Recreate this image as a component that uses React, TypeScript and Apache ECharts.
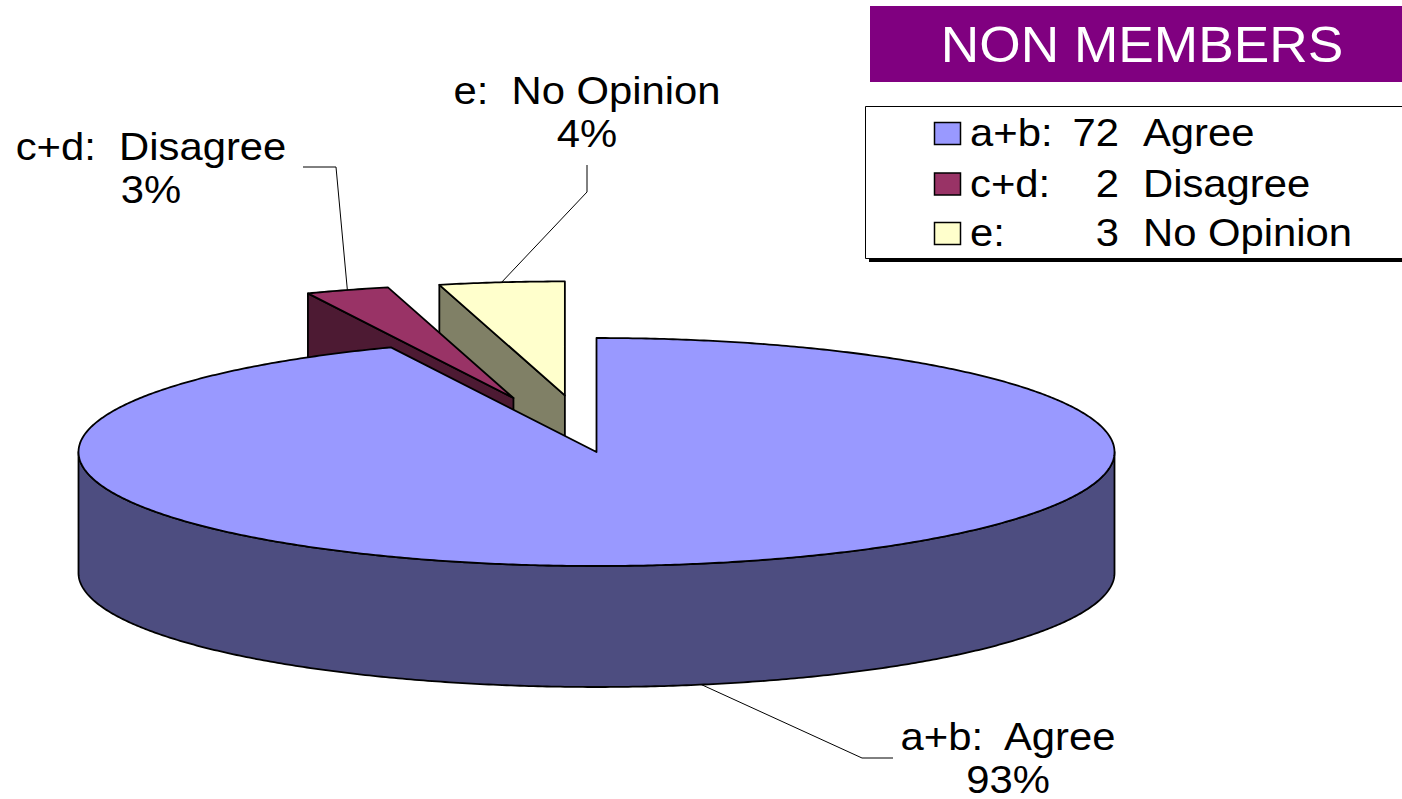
import React, { useEffect, useRef } from "react";
import * as echarts from "echarts";

// ---------- data ----------
const CATEGORY_CODES = ["a+b", "c+d", "e"];
const CATEGORY_NAMES = ["Agree", "Disagree", "No Opinion"];
const RESPONSE_COUNTS = [72, 2, 3];
const CHART_TITLE = "NON MEMBERS";

// ---------- styles ----------
const TOP_COLORS = ["#9999FF", "#993366", "#FFFFCC"];
const SIDE_COLORS = ["#4D4D80", "#4D1A33", "#808066"];
const EXPLODE_FRACTION = [0, 0.5, 0.5];
const DRAW_ORDER_Z = [3, 2, 1];
const FONT = "'Liberation Sans', Arial, Helvetica, sans-serif";
const LABEL_FONT_SIZE = 38;
const LEGEND_FONT_SIZE = 38;
const TEXT_STRETCH = 1.1;

// ---------- 3D pie geometry ----------
const CX = 596.5;
const CY = 452;
const RX = 518;
const RY = 114;
const DEPTH = 121;

// label layout (text centre, leader elbow, leader end, which edge leader starts from)
const LABEL_LAYOUT = [
  { x: 1008, y: 758, elbow: [862, 758], end: [893, 758], fromBottom: true },
  { x: 151, y: 168, elbow: [336, 167], end: [303, 167], fromBottom: false },
  { x: 587, y: 112, elbow: [587, 192], end: [587, 165], fromBottom: false },
];

// legend layout
const LEGEND_BOX = { x: 865.5, y: 106.5, w: 560, h: 152 };
const LEGEND_ROW_Y = [133, 183.5, 233];
const LEGEND_MARK_X = 934;
const LEGEND_CODE_X = 970;
const LEGEND_NUM_RIGHT_X = 1119;
const LEGEND_NAME_X = 1143;

const seriesNames = CATEGORY_CODES.map((c, i) => `${c}: ${RESPONSE_COUNTS[i]} ${CATEGORY_NAMES[i]}`);

function largestRemainderPercents(values: number[]): number[] {
  const total = values.reduce((a, b) => a + b, 0);
  const raw = values.map((v) => (v / total) * 100);
  const floors = raw.map((r) => Math.floor(r));
  let remaining = 100 - floors.reduce((a, b) => a + b, 0);
  const order = raw
    .map((r, i) => ({ i, rem: r - Math.floor(r) }))
    .sort((a, b) => b.rem - a.rem);
  const out = floors.slice();
  for (let k = 0; k < order.length && remaining > 0; k++, remaining--) out[order[k].i] += 1;
  return out;
}

const PERCENTS = largestRemainderPercents(RESPONSE_COUNTS);

const rad = (d: number) => (d * Math.PI) / 180;

function textStyle(text: string, size: number, align: string, fill = "#000", lineHeight?: number) {
  const s: any = {
    text,
    fill,
    fontFamily: FONT,
    fontSize: size,
    align,
    verticalAlign: "middle",
    textAlign: align,
    textVerticalAlign: "middle",
  };
  if (lineHeight) s.lineHeight = lineHeight;
  return s;
}

function makeRenderItem(idx: number) {
  return (params: any, api: any) => {
    const value = api.value(0) as number;
    const total = RESPONSE_COUNTS.reduce((a, b) => a + b, 0);
    let before = 0;
    for (let j = 0; j < idx; j++) before += RESPONSE_COUNTS[j];
    const k = 360 / total;
    const aHi = 90 - before * k;
    const aLo = aHi - value * k;
    const mid = (aHi + aLo) / 2;
    const e = EXPLODE_FRACTION[idx];
    const ox = e * RX * Math.cos(rad(mid));
    const oy = -e * RY * Math.sin(rad(mid));
    const pt = (a: number, z: number) => [
      CX + ox + RX * Math.cos(rad(a)),
      CY + oy - RY * Math.sin(rad(a)) + z,
    ];
    const ctr = (z: number) => [CX + ox, CY + oy + z];
    const arc = (a0: number, a1: number, z: number) => {
      const n = Math.max(2, Math.ceil(Math.abs(a1 - a0) / 0.5));
      const pts: number[][] = [];
      for (let j = 0; j <= n; j++) pts.push(pt(a0 + ((a1 - a0) * j) / n, z));
      return pts;
    };
    const line = { stroke: "#000", lineWidth: 1.8, lineJoin: "round" };
    const children: any[] = [];
    const face = (a: number) => ({
      type: "polygon",
      shape: { points: [ctr(0), pt(a, 0), pt(a, DEPTH), ctr(DEPTH)] },
      style: { fill: SIDE_COLORS[idx], ...line },
    });
    if (Math.cos(rad(aLo)) > 1e-6) children.push(face(aLo));
    if (Math.cos(rad(aHi)) < -1e-6) children.push(face(aHi));
    for (let m = -2; m <= 1; m++) {
      const lo = Math.max(aLo, 180 + 360 * m);
      const hi = Math.min(aHi, 360 + 360 * m);
      if (hi > lo) {
        children.push({
          type: "polygon",
          shape: { points: arc(lo, hi, 0).concat(arc(hi, lo, DEPTH)) },
          style: { fill: SIDE_COLORS[idx], ...line },
        });
      }
    }
    children.push({
      type: "polygon",
      shape: { points: [ctr(0)].concat(arc(aLo, aHi, 0)) },
      style: { fill: TOP_COLORS[idx], ...line },
    });
    const lay = LABEL_LAYOUT[idx];
    const start = pt(mid, lay.fromBottom ? DEPTH : 0);
    children.push({
      type: "polyline",
      shape: { points: [start, lay.elbow, lay.end] },
      style: { stroke: "#000", lineWidth: 1, fill: null },
    });
    children.push({
      type: "text",
      x: lay.x,
      y: lay.y,
      scaleX: TEXT_STRETCH,
      style: textStyle(
        `${CATEGORY_CODES[idx]}:  ${CATEGORY_NAMES[idx]}\n${PERCENTS[idx]}%`,
        LABEL_FONT_SIZE,
        "center",
        "#000",
        43
      ),
    });
    return { type: "group", children };
  };
}

export default function App() {
  const ref = useRef<HTMLDivElement>(null);
  useEffect(() => {
    if (!ref.current) return;
    const chart = echarts.init(ref.current, null, { renderer: "svg" });

    const legendItems: any[] = [];
    RESPONSE_COUNTS.forEach((v, i) => {
      const y = LEGEND_ROW_Y[i];
      legendItems.push({
        type: "rect",
        shape: { x: LEGEND_MARK_X + 0.5, y: y - 11 + 0.5, width: 26, height: 22 },
        style: { fill: TOP_COLORS[i], stroke: "#000", lineWidth: 1.5 },
        z: 5,
      });
      legendItems.push({
        type: "text",
        x: LEGEND_CODE_X,
        y,
        scaleX: TEXT_STRETCH,
        z: 5,
        style: textStyle(`${CATEGORY_CODES[i]}:`, LEGEND_FONT_SIZE, "left"),
      });
      legendItems.push({
        type: "text",
        x: LEGEND_NUM_RIGHT_X,
        y,
        scaleX: TEXT_STRETCH,
        z: 5,
        style: textStyle(String(v), LEGEND_FONT_SIZE, "right"),
      });
      legendItems.push({
        type: "text",
        x: LEGEND_NAME_X,
        y,
        scaleX: TEXT_STRETCH,
        z: 5,
        style: textStyle(CATEGORY_NAMES[i], LEGEND_FONT_SIZE, "left"),
      });
    });

    chart.setOption({
      animation: false,
      graphic: [
        {
          type: "rect",
          shape: { x: LEGEND_BOX.x + 3.5, y: LEGEND_BOX.y + 3.5, width: LEGEND_BOX.w, height: LEGEND_BOX.h },
          style: { fill: "#000" },
          z: 0,
        },
        {
          type: "rect",
          shape: { x: LEGEND_BOX.x, y: LEGEND_BOX.y, width: LEGEND_BOX.w, height: LEGEND_BOX.h },
          style: { fill: "#fff", stroke: "#000", lineWidth: 1 },
          z: 1,
        },
        ...legendItems,
        { type: "rect", shape: { x: 870, y: 6, width: 532, height: 76 }, style: { fill: "#800080" }, z: 1 },
        {
          type: "text",
          x: 1142,
          y: 45,
          z: 2,
          scaleX: 1.065,
          style: textStyle(CHART_TITLE, 50, "center", "#fff"),
        },
      ],
      series: RESPONSE_COUNTS.map((v, i) => ({
        type: "custom",
        name: seriesNames[i],
        coordinateSystem: "none",
        z: DRAW_ORDER_Z[i],
        itemStyle: { color: TOP_COLORS[i] },
        data: [[v]],
        renderItem: makeRenderItem(i),
        clip: false,
      })),
    });
    return () => chart.dispose();
  }, []);
  return (
    <div
      ref={ref}
      style={{ position: "fixed", left: 0, top: 0, width: 1402, height: 799, background: "#fff" }}
    />
  );
}
